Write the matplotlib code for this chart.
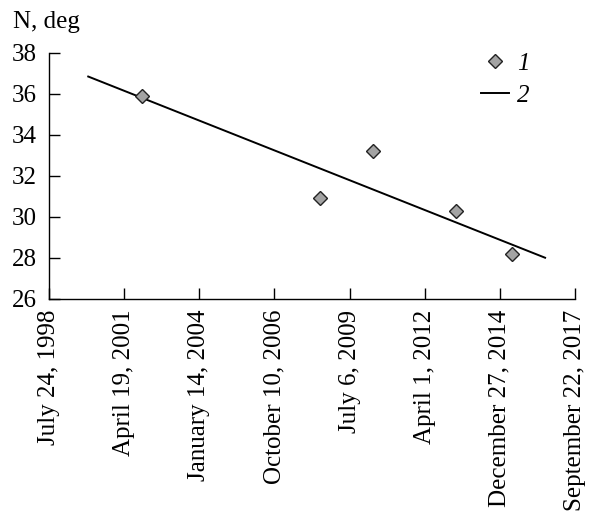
import datetime as dt
import matplotlib
matplotlib.use("Agg")
import matplotlib.pyplot as plt
from matplotlib.lines import Line2D

# observed values (series 1)
obs_dates = ["2001-12-08", "2008-06-10", "2010-05-15", "2013-05-20", "2015-06-05"]
obs_values = [35.9, 30.9, 33.2, 30.3, 28.2]

# linear trend (series 2), endpoints
trend_dates = ["1999-12-28", "2016-08-20"]
trend_values = [36.85, 28.0]

tick_labels = ["July 24, 1998", "April 19, 2001", "January 14, 2004",
               "October 10, 2006", "July 6, 2009", "April 1, 2012",
               "December 27, 2014", "September 22, 2017"]
y_ticks = [26, 28, 30, 32, 34, 36, 38]

plt.rcParams['font.family'] = ['Liberation Serif', 'DejaVu Serif']
plt.rcParams['font.size'] = 18

to_dt = lambda s: dt.datetime.strptime(s, "%Y-%m-%d")
tick_dates = [to_dt("1998-07-24") + dt.timedelta(days=1000 * i) for i in range(len(tick_labels))]

fig = plt.figure(figsize=(5.94, 5.2), dpi=100)
ax = fig.add_axes([0.0825, 0.4256, 0.8855, 0.4725])

ax.plot([to_dt(d) for d in trend_dates], trend_values, color='black', lw=1.4)
ax.plot([to_dt(d) for d in obs_dates], obs_values, linestyle='none', marker='D',
        markersize=7.5, markerfacecolor='#a3a3a3', markeredgecolor='#222222',
        markeredgewidth=1.0)

ax.set_xlim(tick_dates[0], tick_dates[-1])
ax.set_ylim(26, 38)
ax.set_xticks(tick_dates)
ax.set_xticklabels(tick_labels, rotation=90)
ax.set_yticks(y_ticks)
ax.tick_params(direction='in', length=8, width=1.0)
ax.tick_params(axis='x', pad=8)
ax.tick_params(axis='y', pad=8.5)

for side in ['top', 'right']:
    ax.spines[side].set_visible(False)
for side in ['left', 'bottom']:
    ax.spines[side].set_linewidth(1.0)

fig.text(0.022, 0.946, "N, deg", fontsize=18, va='baseline')

handles = [Line2D([], [], linestyle='none', marker='D', markersize=7.5,
                  markerfacecolor='#a3a3a3', markeredgecolor='#222222'),
           Line2D([], [], color='black', lw=1.4)]
ax.legend(handles, ["1", "2"], loc='upper right', frameon=False,
          bbox_to_anchor=(0.913, 1.004), borderaxespad=0, borderpad=0,
          handlelength=1.12, handletextpad=0.32, labelspacing=0.38,
          prop={'style': 'italic', 'size': 18})

fig.savefig("out.png", dpi=100)
